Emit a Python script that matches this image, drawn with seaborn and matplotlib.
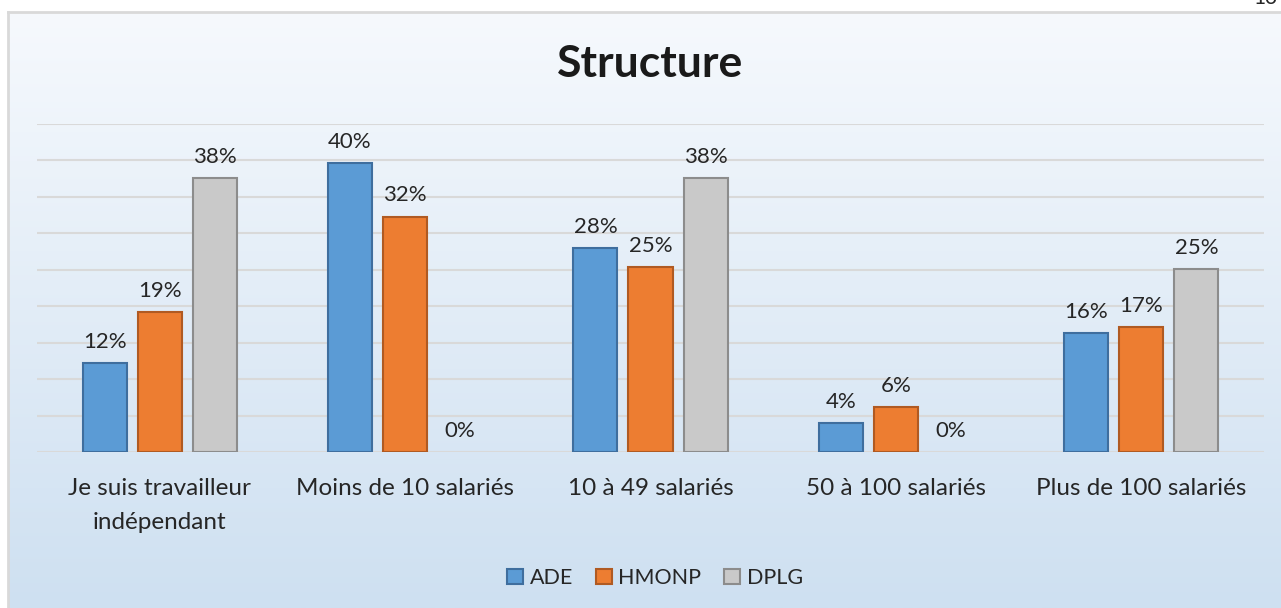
import numpy as np
import pandas as pd
import seaborn as sns
from matplotlib import pyplot as plt

categories = ['Je suis travailleur\nindépendant', 'Moins de 10 salariés', '10 à 49 salariés',
              '50 à 100 salariés', 'Plus de 100 salariés']
series = ['ADE', 'HMONP', 'DPLG']
ade = [12.2, 39.7, 28.0, 4.0, 16.3]
hmonp = [19.2, 32.3, 25.4, 6.2, 17.2]
dplg = [37.6, 0.0, 37.6, 0.0, 25.1]
colors = ['#5B9BD5', '#ED7D31', '#C9C9C9']
edges = ['#3F6E9E', '#B05A22', '#8C8C8C']

sns.set_theme(style='white')
plt.rcParams['font.family'] = ['Lato', 'DejaVu Sans']

df = pd.DataFrame({
    'Structure': categories * 3,
    'Diplome': [s for s in series for _ in categories],
    'Valeur': ade + hmonp + dplg,
})

fig = plt.figure(figsize=(12.81, 6.08), dpi=100)
fig.patch.set_facecolor('white')

# gradient background panel
bg = fig.add_axes([8 / 1281, 0, 1 - 8 / 1281, 596 / 608], zorder=-1)
grad = np.linspace(0, 1, 256).reshape(-1, 1)
top_c = np.array([246, 249, 253]) / 255
bot_c = np.array([206, 224, 241]) / 255
img = top_c + (bot_c - top_c) * grad[:, :, None]
bg.imshow(img, aspect='auto', extent=[0, 1, 0, 1])
bg.set_xticks([]), bg.set_yticks([])
for side in ['right', 'bottom']:
    bg.spines[side].set_visible(False)
for side in ['left', 'top']:
    bg.spines[side].set_color('#D9D9D9')
    bg.spines[side].set_linewidth(2)

ax = fig.add_axes([37 / 1281, 156 / 608, (1264 - 37) / 1281, 328 / 608])
ax.patch.set_alpha(0)
sns.barplot(data=df, x='Structure', y='Valeur', hue='Diplome', order=categories, hue_order=series,
            palette=colors, width=0.673, gap=0.2, ax=ax, legend=True, saturation=1)

for cont, ec, vals in zip(ax.containers, edges, [ade, hmonp, dplg]):
    for bar, v in zip(cont, vals):
        bar.set_edgecolor(ec)
        bar.set_linewidth(1.5 if v > 0 else 0)
        bar.set_zorder(3)
    ax.bar_label(cont, labels=[f'{v:.0f}%' for v in vals], padding=8, fontsize=16, color='#262626')

ax.set_ylim(0, 45)
ax.set_xlim(-0.5, 4.5)
ax.set_yticks(np.arange(0, 46, 5))
ax.set_yticklabels([])
ax.tick_params(axis='y', length=0)
ax.tick_params(axis='x', length=0, labelsize=17.5, colors='#262626', pad=19)
ax.yaxis.grid(True, color='#D9D9D9', linewidth=1.5)
ax.set_axisbelow(True)
sns.despine(ax=ax, left=True, bottom=True, top=True, right=True)
ax.set_xlabel('')
ax.set_ylabel('')

for lab in ax.get_xticklabels():
    lab.set_linespacing(1.73)
    lab.set_verticalalignment('top')

handles, labels = ax.get_legend_handles_labels()
for h, ec in zip(handles, edges):
    h.set_edgecolor(ec)
    h.set_linewidth(1.5)
ax.legend_.remove()
fig.legend(handles, labels, loc='center', bbox_to_anchor=(655 / 1281, 30 / 608), ncol=3, frameon=False,
           fontsize=15.5, handlelength=0.75, handleheight=0.75, handletextpad=0.3, columnspacing=1.05,
           labelcolor='#262626')

fig.text(650 / 1281, 1 - 64 / 608, 'Structure', ha='center', va='center', fontsize=32, fontweight='bold',
         color='#1a1a1a')
fig.text(1265 / 1281, 1 - 4 / 608, '13', ha='center', va='baseline', fontsize=15, color='#262626')

fig.savefig('out.png', dpi=100)
